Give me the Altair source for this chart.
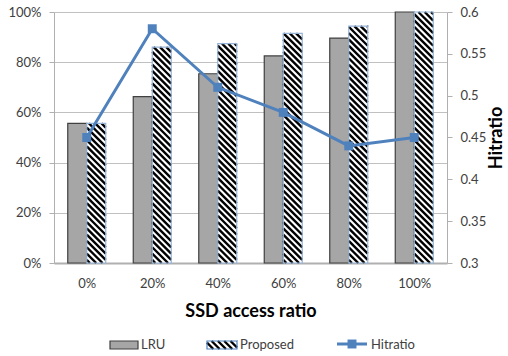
import altair as alt
import pandas as pd

categories = ["0%", "20%", "40%", "60%", "80%", "100%"]
lru = [55.6, 66.3, 75.4, 82.5, 89.6, 100.0]
proposed = [55.6, 86.0, 87.4, 91.5, 94.4, 100.0]
hitratio = [0.45, 0.58, 0.51, 0.48, 0.44, 0.45]

W, H = 393, 251
BAR = 0.29                      # bar width in category units
XDOM = [-0.5, len(categories) - 0.5]
YDOM = [0, 100]
FONT = "Lato"
TXT = "#404040"
STRIPE_PX = 6.3
STRIPE_W = 2.4

px_per_x = W / (XDOM[1] - XDOM[0])
px_per_y = H / (YDOM[1] - YDOM[0])
slope = px_per_x / px_per_y      # 45 degree stripes, % per x unit
period = STRIPE_PX / px_per_y    # stripe spacing in %

idx = list(range(len(categories)))
lru_df = pd.DataFrame({"i": idx, "cat": categories, "v": lru,
                       "x0": [i - BAR for i in idx], "x1": idx})
prop_df = pd.DataFrame({"i": idx, "cat": categories, "v": proposed,
                        "x0": idx, "x1": [i + BAR for i in idx]})
hit_df = pd.DataFrame({"i": idx, "cat": categories, "h": hitratio})

# hatch stripes derived from the proposed bar heights
rows = []
for i, top in zip(idx, proposed):
    c = period / 2
    while c < top + slope * BAR:
        xs = i + max(0.0, (c - top) / slope)
        ys = min(c, top)
        xe = i + min(BAR, c / slope)
        ye = max(c - slope * BAR, 0.0)
        if xe > xs:
            rows.append({"xs": xs, "ys": ys, "xe": xe, "ye": ye})
        c += period
stripe_df = pd.DataFrame(rows)

xscale = alt.Scale(domain=XDOM, nice=False, zero=False)
yscale = alt.Scale(domain=YDOM, nice=False)

xaxis = alt.Axis(values=idx, labelExpr="[" + ",".join(f"'{c}'" for c in categories) + "][datum.value]",
                 title="SSD access ratio", grid=False, ticks=False, domainColor="#b0b0b0",
                 domainWidth=2, labelFont=FONT, labelFontSize=13, labelColor=TXT, labelPadding=14,
                 titleFont=FONT, titleFontSize=18, titleFontWeight="bold", titleColor="#000000",
                 titlePadding=12)
yaxis = alt.Axis(values=[0, 20, 40, 60, 80, 100], labelExpr="datum.value + '%'", title="",
                 grid=True, gridColor="#c0c0c0", gridWidth=1.2, domainColor="#b0b0b0",
                 tickColor="#b0b0b0", tickSize=5, labelFont=FONT, labelFontSize=13,
                 labelColor=TXT, labelPadding=8)

lru_bars = alt.Chart(lru_df).mark_rect(fill="#a6a6a6", stroke="#404040", strokeWidth=1.2).encode(
    x=alt.X("x0:Q", scale=xscale, axis=xaxis),
    x2="x1:Q",
    y=alt.Y("v:Q", scale=yscale, axis=yaxis),
    y2=alt.datum(0),
)
prop_fill = alt.Chart(prop_df).mark_rect(fill="white").encode(
    x=alt.X("x0:Q", scale=xscale), x2="x1:Q",
    y=alt.Y("v:Q", scale=yscale), y2=alt.datum(0),
)
stripes = alt.Chart(stripe_df).mark_rule(color="black", strokeWidth=STRIPE_W, strokeCap="butt").encode(
    x=alt.X("xs:Q", scale=xscale), x2="xe:Q",
    y=alt.Y("ys:Q", scale=yscale), y2="ye:Q",
)
prop_outline = alt.Chart(prop_df).mark_rect(fillOpacity=0, stroke="#95b3d7", strokeWidth=1.2).encode(
    x=alt.X("x0:Q", scale=xscale), x2="x1:Q",
    y=alt.Y("v:Q", scale=yscale), y2=alt.datum(0),
)

left = alt.layer(lru_bars, prop_fill, stripes, prop_outline)

raxis = alt.Axis(values=[0.3, 0.35, 0.4, 0.45, 0.5, 0.55, 0.6], format=".2~f", orient="right",
                 title="Hitratio", grid=False, domainColor="#b0b0b0", tickColor="#b0b0b0",
                 tickSize=5, labelFont=FONT, labelFontSize=13, labelColor=TXT, labelPadding=8,
                 titleFont=FONT, titleFontSize=18, titleFontWeight="bold", titleColor="#000000",
                 titleAngle=270, titlePadding=20)
rscale = alt.Scale(domain=[0.3, 0.6], nice=False, zero=False)

hit_line = alt.Chart(hit_df).mark_line(color="#4f81bd", strokeWidth=3).encode(
    x=alt.X("i:Q", scale=xscale),
    y=alt.Y("h:Q", scale=rscale, axis=raxis),
)
hit_pts = alt.Chart(hit_df).mark_square(color="#4f81bd", opacity=1, size=80).encode(
    x=alt.X("i:Q", scale=xscale),
    y=alt.Y("h:Q", scale=rscale),
)
right = alt.layer(hit_line, hit_pts)

# ---- legend (pixel positions relative to plot area) ----
LY0, LY1 = 329, 337
leg_lru = alt.Chart().mark_rect(fill="#a6a6a6", stroke="#404040", strokeWidth=1.2).encode(
    x=alt.value(56), x2=alt.value(84), y=alt.value(LY0), y2=alt.value(LY1))
leg_prop_bg = alt.Chart().mark_rect(fill="white").encode(
    x=alt.value(153), x2=alt.value(183), y=alt.value(LY0), y2=alt.value(LY1))
leg_stripe_layers = []
bx0, bx1 = 153, 183
c = bx0 - (LY1 - LY0)
while c < bx1:
    xs = max(c, bx0)
    ys = LY0 + (xs - c)
    xe = min(c + (LY1 - LY0), bx1)
    ye = LY0 + (xe - c)
    if xe > xs:
        leg_stripe_layers.append(
            alt.Chart().mark_rule(color="black", strokeWidth=STRIPE_W, strokeCap="butt").encode(
                x=alt.value(xs), x2=alt.value(xe), y=alt.value(ys), y2=alt.value(ye)))
    c += STRIPE_PX
leg_prop = alt.Chart().mark_rect(fillOpacity=0, stroke="#4f81bd", strokeWidth=1.2).encode(
    x=alt.value(153), x2=alt.value(183), y=alt.value(LY0), y2=alt.value(LY1))
leg_line = alt.Chart().mark_rule(color="#4f81bd", strokeWidth=3).encode(
    x=alt.value(283), x2=alt.value(313), y=alt.value(332))
leg_pt = alt.Chart().mark_square(color="#4f81bd", opacity=1, size=80).encode(
    x=alt.value(298), y=alt.value(332))
def ltext(x, t):
    return alt.Chart().mark_text(align="left", baseline="middle", font=FONT, fontSize=13,
                                 color=TXT).encode(x=alt.value(x), y=alt.value(333), text=alt.value(t))
legend_layers = [leg_lru, leg_prop_bg, *leg_stripe_layers, leg_prop, leg_line, leg_pt,
                 ltext(87, "LRU"), ltext(186, "Proposed"), ltext(317, "Hitratio")]

chart = alt.layer(alt.layer(left, *legend_layers), right).resolve_scale(y="independent").properties(
    width=W, height=H, autosize=alt.AutoSizeParams(type="none"),
    padding={"left": 54, "top": 12, "right": 61, "bottom": 93},
).configure_view(stroke=None)

chart.save("out.html", embed_options={"renderer": "svg", "actions": False})
